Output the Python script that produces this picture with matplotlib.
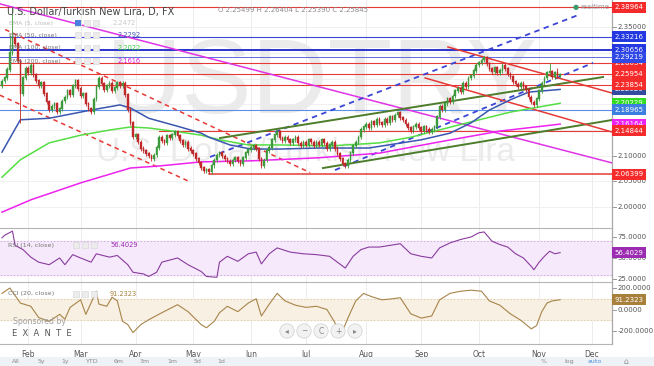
import numpy as np
import pandas as pd
import matplotlib
matplotlib.use('Agg')
import matplotlib.pyplot as plt
from matplotlib.patches import Rectangle

W, H = 654, 366

# daily closes, USD/TRY, from 20 Jan 2014 (one per weekday)
closes = [
    2.245, 2.252, 2.268, 2.300, 2.330, 2.318, 2.285, 2.220, 2.252, 2.270,
    2.262, 2.276, 2.258, 2.246, 2.236, 2.242, 2.221, 2.205, 2.190, 2.196,
    2.201, 2.186, 2.191, 2.206, 2.214, 2.226, 2.219, 2.236, 2.246, 2.231,
    2.216, 2.221, 2.201, 2.191, 2.186, 2.210, 2.234, 2.251, 2.240, 2.229,
    2.236, 2.241, 2.226, 2.232, 2.242, 2.236, 2.241, 2.219, 2.190, 2.164,
    2.136, 2.141, 2.126, 2.114, 2.109, 2.104, 2.099, 2.094, 2.101, 2.116,
    2.136, 2.129, 2.124, 2.139, 2.134, 2.141, 2.146, 2.139, 2.129, 2.121,
    2.126, 2.114, 2.109, 2.104, 2.094, 2.086, 2.076, 2.070, 2.073, 2.068,
    2.081, 2.091, 2.101, 2.106, 2.099, 2.094, 2.089, 2.084, 2.091, 2.096,
    2.089, 2.084, 2.096, 2.106, 2.111, 2.116, 2.119, 2.113, 2.094, 2.080,
    2.091, 2.109, 2.116, 2.131, 2.141, 2.146, 2.134, 2.129, 2.136, 2.131,
    2.124, 2.131, 2.136, 2.124, 2.119, 2.126, 2.121, 2.131, 2.126, 2.119,
    2.126, 2.121, 2.131, 2.124, 2.114, 2.121, 2.126, 2.114, 2.104, 2.094,
    2.084, 2.080, 2.091, 2.106, 2.119, 2.126, 2.136, 2.151, 2.156, 2.161,
    2.154, 2.166, 2.159, 2.171, 2.164, 2.159, 2.171, 2.164, 2.176, 2.169,
    2.179, 2.184, 2.174, 2.169, 2.161, 2.154, 2.149, 2.156, 2.161, 2.154,
    2.149, 2.156, 2.151, 2.146, 2.151, 2.156, 2.176, 2.196, 2.189, 2.201,
    2.211, 2.204, 2.216, 2.226, 2.231, 2.224, 2.241, 2.234, 2.251, 2.256,
    2.266, 2.276, 2.281, 2.286, 2.291, 2.279, 2.269, 2.264, 2.271, 2.261,
    2.266, 2.276, 2.269, 2.259, 2.254, 2.244, 2.239, 2.234, 2.241, 2.234,
    2.229, 2.214, 2.204, 2.199, 2.211, 2.226, 2.241, 2.251, 2.261, 2.264,
    2.254, 2.261, 2.255, 2.258,
]
first_open = 2.236
high_spikes = {4: 2.390, 3: 2.335, 209: 2.280, 212: 2.270}
low_spikes = {7: 2.164}

# moving averages (bar index, value)
ema50_idx = [0, 7, 18, 34, 45, 49, 56, 68, 76, 79, 87, 95, 106, 121, 140, 160, 171, 179, 186, 194, 201, 213]
ema50_val = [2.107, 2.170, 2.173, 2.189, 2.199, 2.193, 2.173, 2.156, 2.144, 2.136, 2.121, 2.113, 2.113, 2.115,
             2.115, 2.131, 2.144, 2.164, 2.189, 2.209, 2.224, 2.2292]
ema100_idx = [0, 7, 18, 30, 41, 49, 56, 68, 76, 83, 94, 106, 125, 144, 156, 179, 194, 205, 213]
ema100_val = [2.058, 2.092, 2.125, 2.140, 2.150, 2.156, 2.154, 2.146, 2.140, 2.131, 2.121, 2.121, 2.119, 2.125,
              2.136, 2.166, 2.185, 2.195, 2.2022]
ema200_idx = [0, 11, 30, 49, 60, 76, 95, 121, 144, 167, 190, 213]
ema200_val = [1.990, 2.014, 2.047, 2.076, 2.080, 2.088, 2.090, 2.096, 2.105, 2.127, 2.148, 2.1616]

# RSI(14) and CCI(20)
rsi_idx = [0, 1, 4, 5, 8, 11, 14, 18, 22, 24, 27, 30, 34, 36, 41, 44, 48, 50, 54, 56, 59, 61, 67, 71, 76, 78,
           82, 83, 86, 90, 94, 97, 99, 102, 105, 110, 115, 120, 125, 128, 131, 134, 137, 140, 144, 148, 152,
           156, 160, 164, 167, 171, 175, 179, 182, 184, 187, 190, 193, 196, 199, 202, 203, 205, 207, 209, 211, 213]
rsi_val = [74, 77, 82, 65, 60, 51, 45, 42, 50, 42, 54, 50, 45, 55, 51, 53, 42, 33, 31, 28, 33, 45, 50, 42, 34, 28,
           27, 45, 52, 46, 55, 57, 43, 55, 62, 57, 55, 54, 52, 45, 38, 52, 60, 63, 63, 65, 67,
           55, 52, 50, 62, 68, 72, 75, 80, 81, 70, 66, 63, 55, 50, 40, 36, 45, 52, 58, 55, 56.4]
cci_idx = [0, 3, 7, 11, 14, 18, 22, 24, 26, 30, 32, 36, 37, 40, 42, 44, 46, 48, 50, 53, 56, 61, 67, 71, 76, 78,
           81, 83, 86, 90, 94, 97, 99, 102, 105, 108, 112, 116, 120, 124, 127, 129, 132, 135, 138, 141, 145,
           149, 152, 156, 160, 164, 167, 171, 175, 179, 183, 186, 190, 194, 198, 202, 204, 206, 208, 210, 213]
cci_val = [150, 200, 60, 30, -75, -110, -45, -90, 20, 90, -45, 170, 50, 30, 115, 80, -110, -140, -215, -140, -95,
           -30, 45, -20, -140, -170, -110, -30, 30, -20, 60, 100, -60, 50, 150, 80, 40, 20, 30, 0, -120, -260,
           -80, 80, 150, 120, 90, 100, 110, -40, -80, -60, 90, 150, 170, 180, 170, 80, 40, -40, -100, -180,
           -150, -20, 60, 80, 91.2]

# drawn trend lines: (bar index, price) end points
trend_lines = [
    # (x0, y0, x1, y1, color, style, width)
    (-0.8, 2.396, 232.8, 2.086, '#e033e6', '-', 1.1),
    (1.2, 2.346, 117.6, 2.067, '#e53935', (0, (3, 2.5)), 1.1),
    (-0.8, 2.218, 71.8, 2.049, '#e53935', (0, (3, 2.5)), 1.1),
    (79.4, 2.0975, 219.8, 2.374, '#3b45d6', (0, (3, 2.5)), 1.3),
    (127.1, 2.072, 225.6, 2.281, '#3b45d6', (0, (3, 2.5)), 1.3),
    (83.2, 2.1345, 229.4, 2.2534, '#4d7d2a', '-', 1.4),
    (122.5, 2.076, 232.8, 2.1696, '#4d7d2a', '-', 1.4),
    (170.2, 2.3119, 232.8, 2.2222, '#e53935', '-', 1.1),
    (161.5, 2.2515, 232.8, 2.1462, '#e53935', '-', 1.1),
]
# horizontal levels: value, start bar, colour, width
levels = [
    (2.38964, -1, '#e53935', 0.8), (2.33216, -1, '#3b45d6', 0.8), (2.30656, -1, '#2b35cf', 1.4),
    (2.29219, -1, '#5c6ae0', 0.7), (2.28034, -1, '#e53935', 0.8), (2.25954, -1, '#e53935', 0.8),
    (2.23854, -1, '#e53935', 0.8), (2.18965, -1, '#5b8fe6', 0.8), (2.14844, 60, '#e53935', 0.8),
    (2.06399, 79, '#e53935', 1.1),
]
# price scale boxes (drawn in this order): value, text, colour
price_boxes = [
    (2.38964, '2.38964', '#f52a2a'), (2.33216, '2.33216', '#2338e0'), (2.28034, '2.28034', '#f52a2a'),
    (2.30656, '2.30656', '#2338e0'), (2.29219, '2.29219', '#2f48e6'), (2.25954, '2.25954', '#f52a2a'),
    (2.2292, '2.22920', '#334b9e'), (2.23854, '2.23854', '#f52a2a'), (2.2022, '2.20229', '#33dd22'),
    (2.18965, '2.18965', '#3d7fe0'), (2.1616, '2.16164', '#ee22ee'), (2.14844, '2.14844', '#f52a2a'),
    (2.06399, '2.06399', '#f52a2a'),
]
price_ticks = [2.35, 2.30, 2.25, 2.20, 2.15, 2.10, 2.05, 2.00]

n = len(closes)
idx = np.arange(n)
closes = np.array(closes)
opens = np.r_[first_open, closes[:-1]]
highs = np.maximum(opens, closes) + 0.004
lows = np.minimum(opens, closes) - 0.004
for k, v in high_spikes.items():
    highs[k] = v
for k, v in low_spikes.items():
    lows[k] = v

dates = pd.bdate_range('2014-01-20', periods=240)
month_pos = [i for i in range(1, 234) if dates[i].month != dates[i - 1].month]
month_lab = [dates[i].strftime('%b') for i in month_pos]


def rect(x0, y0, x1, y1):
    return [x0 / W, 1 - y1 / H, (x1 - x0) / W, (y1 - y0) / H]


def fx(x):
    return x / W


def fy(y):
    return 1 - y / H


def icons(x, y, count=3):
    for k in range(count):
        fig.add_artist(Rectangle((fx(x + 9 * k), fy(y + 3)), 6 / W, 6 / H, transform=fig.transFigure,
                                 fc='#ececec', ec='#d6d6d6', lw=0.4))


fig = plt.figure(figsize=(W / 100, H / 100), dpi=100)
fig.patch.set_facecolor('white')

ax = fig.add_axes(rect(0, 0, 612, 228))
ax_rsi = fig.add_axes(rect(0, 228, 612, 282), sharex=ax)
ax_cci = fig.add_axes(rect(0, 282, 612, 344), sharex=ax)

ax.set_xlim(-0.76, 232.8)
ax.set_ylim(1.9591, 2.4035)
ax_rsi.set_ylim(21.4, 85.7)
ax_cci.set_ylim(-321, 256)

for a in (ax, ax_rsi, ax_cci):
    for s in a.spines.values():
        s.set_visible(False)
    a.tick_params(left=False, right=False, bottom=False, labelleft=False, labelbottom=False)
    for m in month_pos:
        a.axvline(m, color='#ececec', lw=0.7, zorder=0)
    a.axvline(232.8, color='#a8a8a8', lw=0.9, clip_on=False, zorder=5)

for t in price_ticks:
    ax.axhline(t, color='#f0f0f0', lw=0.7, zorder=0)

# watermark
ax.text(0.525, 0.625, 'USDTRY', transform=ax.transAxes, ha='center', va='center',
        fontsize=76, family='Liberation Sans', color='#ebebeb', zorder=0)
ax.text(0.5, 0.33, 'U.S. Dollar/Turkish New Lira', transform=ax.transAxes, ha='center', va='center',
        fontsize=24, family='Liberation Sans', color='#ebebeb', zorder=0)

# levels and trend lines
for v, start, c, lw in levels:
    ax.plot([start, 232.8], [v, v], color=c, lw=lw, zorder=2)
for x0, y0, x1, y1, c, ls, lw in trend_lines:
    ax.plot([x0, x1], [y0, y1], color=c, ls=ls, lw=lw, zorder=3)

# moving averages
ax.plot(ema200_idx, ema200_val, color='#ee22ee', lw=1.1, zorder=3)
ax.plot(ema100_idx, ema100_val, color='#55dd44', lw=1.1, zorder=3)
ax.plot(ema50_idx, ema50_val, color='#3a56b0', lw=1.1, zorder=3)

# candles
up = closes >= opens
col = np.where(up, '#3c9a3c', '#c0282a')
ax.vlines(idx, lows, highs, color=col, lw=0.6, zorder=4)
ax.bar(idx, np.abs(closes - opens) + 0.0012, bottom=np.minimum(opens, closes), width=0.62,
       color=col, edgecolor=col, lw=0.3, zorder=4)

# price scale
ytr = ax.get_yaxis_transform()
for t in price_ticks:
    ax.plot([1.0, 1.006], [t, t], transform=ytr, color='#888', lw=0.6, clip_on=False)
    ax.text(1.009, t, '%.5f' % t, transform=ytr, ha='left', va='center', fontsize=5.0,
            color='#555555', clip_on=False)
for v, txt, c in price_boxes:
    ax.text(1.004, v, txt, transform=ytr, ha='left', va='center', fontsize=5.0, color='white',
            clip_on=False, zorder=10,
            bbox=dict(boxstyle='square,pad=0.35', fc=c, ec='none'))

# RSI pane
ax_rsi.axhspan(30, 70, color='#f5e9fb', zorder=0)
for v in (30, 70):
    ax_rsi.axhline(v, color='#c9a3dc', lw=0.6, ls=(0, (2, 2)), zorder=1)
ax_rsi.plot(rsi_idx, rsi_val, color='#8a3c9e', lw=0.8, zorder=3)
rtr = ax_rsi.get_yaxis_transform()
for t in (75, 50, 25):
    ax_rsi.plot([1.0, 1.006], [t, t], transform=rtr, color='#888', lw=0.6, clip_on=False)
    ax_rsi.text(1.009, t, '%.4f' % t, transform=rtr, ha='left', va='center', fontsize=5.0,
                color='#555555', clip_on=False)
ax_rsi.text(1.004, 56.4029, '56.4029', transform=rtr, ha='left', va='center', fontsize=5.0,
            color='white', clip_on=False, zorder=10,
            bbox=dict(boxstyle='square,pad=0.35', fc='#9b2bb0', ec='none'))

# CCI pane
ax_cci.axhspan(-100, 100, color='#f8f0e3', zorder=0)
for v in (-100, 100):
    ax_cci.axhline(v, color='#dccdb0', lw=0.6, ls=(0, (2, 2)), zorder=1)
ax_cci.plot(cci_idx, cci_val, color='#a8844a', lw=0.8, zorder=3)
ctr = ax_cci.get_yaxis_transform()
for t in (200, 0, -200):
    ax_cci.plot([1.0, 1.006], [t, t], transform=ctr, color='#888', lw=0.6, clip_on=False)
    ax_cci.text(1.009, t, '%.4f' % t, transform=ctr, ha='left', va='center', fontsize=5.0,
                color='#555555', clip_on=False)
ax_cci.text(1.004, 91.2323, '91.2323', transform=ctr, ha='left', va='center', fontsize=5.0,
            color='white', clip_on=False, zorder=10,
            bbox=dict(boxstyle='square,pad=0.35', fc='#a8803c', ec='none'))

# month labels
ax_cci.set_xticks(month_pos)
ax_cci.set_xticklabels(month_lab)
ax_cci.tick_params(labelbottom=True, length=0, pad=4, labelsize=5.5, labelcolor='#555555')

# pane borders
for y in (228, 282, 344):
    fig.add_artist(plt.Line2D([0, fx(612)], [fy(y), fy(y)], color='#b5b5b5', lw=0.8))

# header texts
fig.text(fx(7), fy(12), 'U.S. Dollar/Turkish New Lira, D, FX', fontsize=7, color='#444444', va='center')
fig.text(fx(218), fy(10), 'O 2.25499 H 2.26404 L 2.25390 C 2.25845', fontsize=5.0, color='#8a8a8a',
         va='center')
fig.text(fx(573), fy(7), '\u25cf', fontsize=5, color='#3c9a6c', va='center')
fig.text(fx(580), fy(7), 'realtime', fontsize=5.0, color='#9a9a9a', va='center')

legend_rows = [
    (23, 'EMA (5, close)', '2.2472', '#c8c8c8', 113),
    (35, 'EMA (50, close)', '2.2292', '#3f51b5', 118),
    (48, 'EMA (100, close)', '2.2022', '#33cc33', 118),
    (61, 'EMA (200, close)', '2.1616', '#e020e0', 118),
]
for y, lab, val, c, xv in legend_rows:
    fig.text(fx(9), fy(y), lab, fontsize=4.4, color='#bbbbbb' if '5,' in lab else '#777777',
             va='center')
    icons(75, y)
    fig.text(fx(xv), fy(y), val, fontsize=4.8, color=c, va='center')
fig.add_artist(Rectangle((fx(75), fy(26)), 6 / W, 6 / H, transform=fig.transFigure,
                         fc='#4a7fe0', ec='none'))

fig.text(fx(8), fy(245), 'RSI (14, close)', fontsize=4.6, color='#777777', va='center')
fig.text(fx(110), fy(245), '56.4029', fontsize=4.8, color='#9b2bb0', va='center')
fig.text(fx(8), fy(294), 'CCI (20, close)', fontsize=4.6, color='#777777', va='center')
fig.text(fx(110), fy(294), '91.2323', fontsize=4.8, color='#a8803c', va='center')
icons(73, 245)
icons(73, 294)
fig.text(fx(13), fy(321), 'Sponsored by', fontsize=5.6, color='#a0a0a0', va='center')
fig.text(fx(12), fy(333), 'E  X  A  N  T  E', fontsize=6, color='#555555', va='center')

# navigation buttons
for k, s in enumerate(['\u25c2', '\u2212', 'C', '+', '\u25b8']):
    fig.text(fx(287 + 17 * k), fy(331), s, fontsize=5.5, color='#888888', ha='center', va='center',
             bbox=dict(boxstyle='circle,pad=0.35', fc='#f2f2f2', ec='#cfcfcf', lw=0.5))

# bottom toolbar
fig.add_artist(Rectangle((0, 0), 1, 9 / H, transform=fig.transFigure, fc='#eef1f6', ec='none'))
for x, s in [(16, 'All'), (41, '5y'), (65, '1y'), (92, 'YTD'), (119, '6m'), (145, '3m'), (172, '1m'),
             (198, '5d'), (221, '1d'), (544, '%'), (569, 'log')]:
    fig.text(fx(x), fy(361.5), s, fontsize=4.5, color='#8a8a8a', ha='center', va='center')
fig.text(fx(595), fy(361.5), 'auto', fontsize=4.5, color='#4a8fe0', ha='center', va='center')
fig.text(fx(626), fy(361.5), '\u2302', fontsize=5.5, color='#8a8a8a', ha='center', va='center')

fig.savefig('out.png', dpi=100)
